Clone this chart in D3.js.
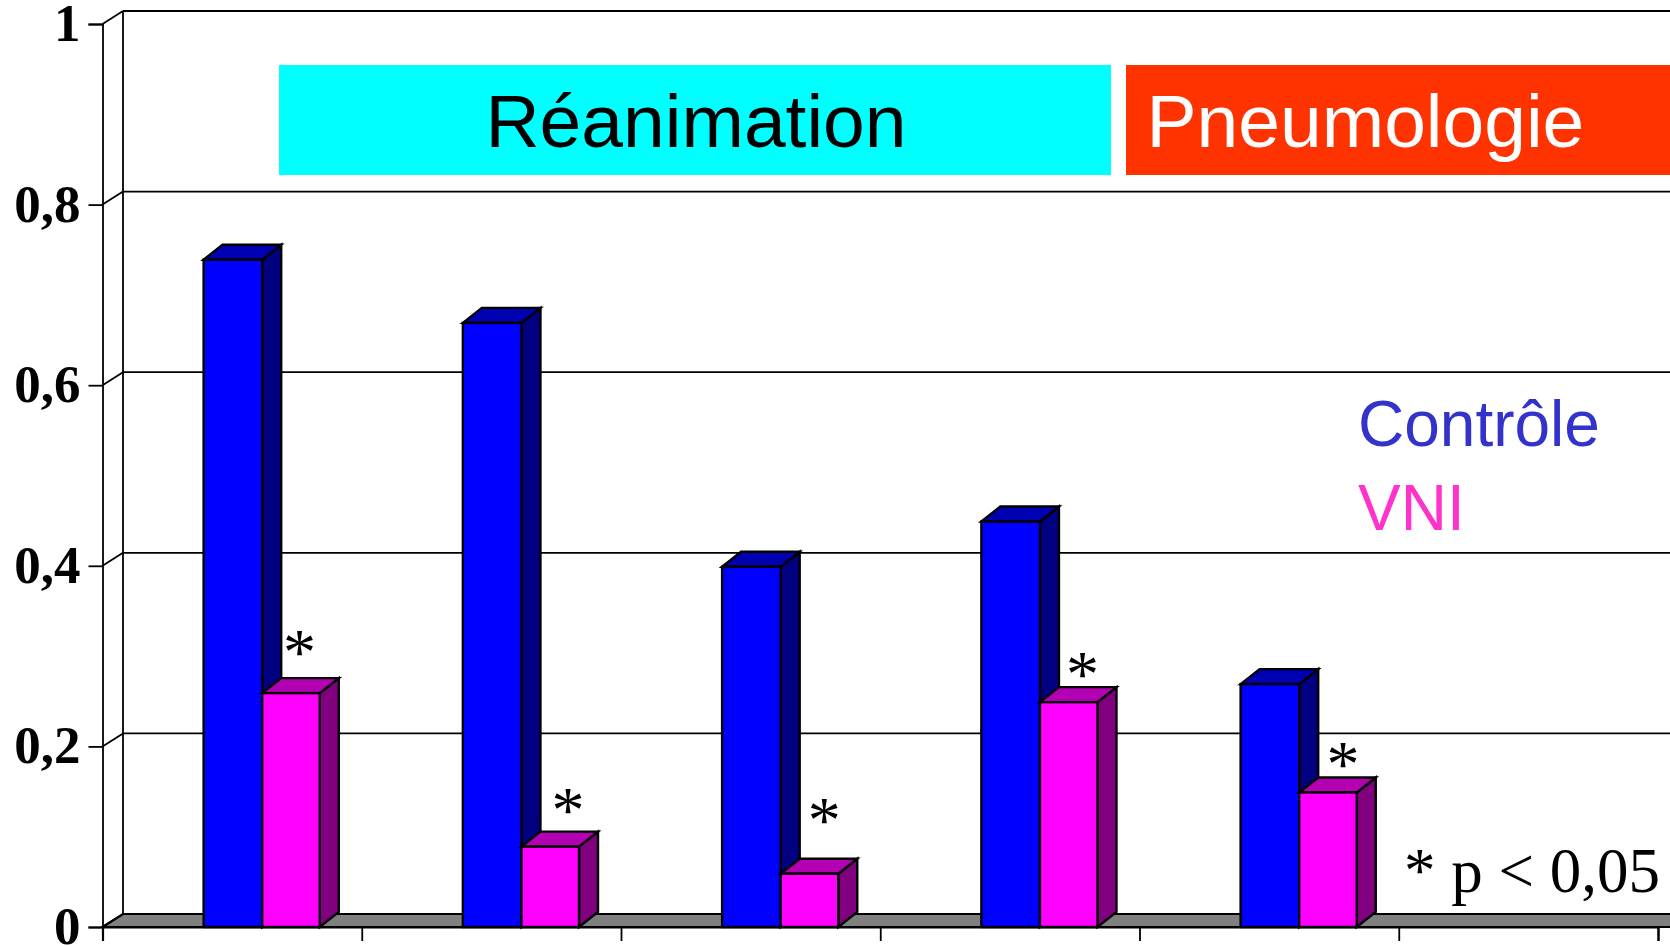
<!DOCTYPE html>
<html>
<head>
<meta charset="utf-8">
<style>
html, body { margin: 0; padding: 0; background: #fff; overflow: hidden; }
svg { display: block; }
</style>
<script src="https://cdn.jsdelivr.net/npm/d3@7"></script>
</head>
<body>
<svg id="chart" width="1670" height="946"></svg>
<script>
// Mortality rate per study, standard care against non-invasive ventilation
const categories = [0, 1, 2, 3, 4];
const controle = [0.739, 0.669, 0.399, 0.449, 0.269];
const vni = [0.259, 0.089, 0.059, 0.249, 0.149];
const yTicks = [0, 0.2, 0.4, 0.6, 0.8, 1];
const slotCount = 6;

const svg = d3.select("#chart");
const y = d3.scaleLinear().domain([0, 1]).range([927, 24]);
const x = d3.scaleLinear().domain([0, slotCount]).range([102.5, 1658]);

// Perspective of the chart walls and of the bars
const wall = { dx: 20.5, dy: -13 };
const box = { dx: 19, dy: -15 };
const rightEdge = 1670 + wall.dx;
const serif = "'Liberation Serif', serif";
const sans = "'Liberation Sans', sans-serif";
const ink = "#000";

const path = pts => "M" + pts.map(p => p.join(",")).join("L") + "Z";

// Floor
svg.append("path")
  .attr("d", path([[x(0), y(0)], [x(0) + wall.dx, y(0) + wall.dy],
                   [rightEdge, y(0) + wall.dy], [rightEdge - wall.dx, y(0)]]))
  .attr("fill", "#808080").attr("stroke", ink).attr("stroke-width", 2.2);

// Back wall gridlines and the diagonals joining them to the axis
const grid = svg.append("g").attr("fill", "none").attr("stroke", ink).attr("stroke-width", 1.8);
grid.selectAll("line.back").data(yTicks).join("line").attr("class", "back")
  .attr("x1", x(0) + wall.dx).attr("x2", rightEdge)
  .attr("y1", d => y(d) + wall.dy).attr("y2", d => y(d) + wall.dy);
grid.selectAll("line.side").data(yTicks).join("line").attr("class", "side")
  .attr("x1", x(0)).attr("x2", x(0) + wall.dx)
  .attr("y1", d => y(d)).attr("y2", d => y(d) + wall.dy);
grid.append("line")
  .attr("x1", x(0) + wall.dx).attr("x2", x(0) + wall.dx)
  .attr("y1", y(1) + wall.dy).attr("y2", y(0) + wall.dy);

// Value axis
const yAxis = svg.append("g").attr("transform", `translate(${x(0)},0)`)
  .call(d3.axisLeft(y).tickValues(yTicks).tickSize(14).tickPadding(8)
    .tickFormat(d => String(d).replace(".", ",")));
yAxis.select(".domain").attr("stroke", ink).attr("stroke-width", 1.8);
yAxis.selectAll("line").attr("stroke", ink).attr("stroke-width", 1.8);
yAxis.selectAll("text")
  .attr("font-family", serif).attr("font-weight", "bold").attr("font-size", 53)
  .attr("dy", "0.31em").attr("fill", ink);

// Category axis, with tick marks only
const xAxis = svg.append("g").attr("transform", `translate(0,${y(0)})`)
  .call(d3.axisBottom(x).tickValues(d3.range(slotCount + 1)).tickSize(14).tickFormat(""));
xAxis.select(".domain").attr("stroke", ink).attr("stroke-width", 2.2);
xAxis.selectAll("line").attr("stroke", ink).attr("stroke-width", 1.8);

// A bar is a front face, a top face and a right side
function drawBars(values, start, width, colors) {
  const g = svg.append("g").attr("stroke", ink).attr("stroke-width", 2.4)
    .attr("stroke-linejoin", "miter");
  const bars = g.selectAll("g").data(categories).join("g");
  const left = i => x(i + start);
  const right = i => x(i + start + width);
  const top = i => y(values[i]);
  bars.append("path").attr("fill", colors.side)
    .attr("d", i => path([[right(i), top(i)], [right(i) + box.dx, top(i) + box.dy],
                          [right(i) + box.dx, y(0) + box.dy], [right(i), y(0)]]));
  bars.append("path").attr("fill", colors.top)
    .attr("d", i => path([[left(i), top(i)], [left(i) + box.dx, top(i) + box.dy],
                          [right(i) + box.dx, top(i) + box.dy], [right(i), top(i)]]));
  bars.append("rect").attr("fill", colors.front)
    .attr("x", i => left(i)).attr("y", i => top(i))
    .attr("width", i => right(i) - left(i)).attr("height", i => y(0) - top(i));
}
drawBars(controle, 0.39, 0.226, { front: "#0000FF", top: "#0000B3", side: "#000080" });
drawBars(vni, 0.616, 0.222, { front: "#FF00FF", top: "#B300B3", side: "#800080" });

// Significance marks above the VNI bars
const starShiftX = [0.76, 0.796, 0.784, 0.78, 0.785];
const starLift = [4, 0, 17, -9, -9];
svg.append("g").selectAll("text").data(categories).join("text")
  .attr("x", i => x(i + starShiftX[i]))
  .attr("y", i => y(vni[i]) + box.dy - starLift[i])
  .attr("text-anchor", "middle")
  .attr("font-family", serif).attr("font-size", 66).attr("fill", ink)
  .text("*");

// Department banners
const banners = [
  { x: 279, w: 832, fill: "#00FFFF", color: "#000", label: "Réanimation", tx: 696, anchor: "middle" },
  { x: 1126, w: 544, fill: "#FF3300", color: "#fff", label: "Pneumologie", tx: 1146.5, anchor: "start" }
];
banners.forEach(b => {
  svg.append("rect").attr("x", b.x).attr("y", 65).attr("width", b.w).attr("height", 110).attr("fill", b.fill);
  svg.append("text").attr("x", b.tx).attr("y", 147).attr("text-anchor", b.anchor)
    .attr("font-family", sans).attr("font-size", 75).attr("fill", b.color).text(b.label);
});

// Series legend and significance note
svg.append("text").attr("x", 1358).attr("y", 446).attr("font-family", sans)
  .attr("font-size", 64).attr("fill", "#3333CC").text("Contrôle");
svg.append("text").attr("x", 1358).attr("y", 530).attr("font-family", sans)
  .attr("font-size", 64).attr("fill", "#FF33CC").text("VNI");
svg.append("text").attr("x", 1404).attr("y", 892).attr("font-family", serif)
  .attr("font-size", 63).attr("fill", ink).text("* p < 0,05");
</script>
</body>
</html>
